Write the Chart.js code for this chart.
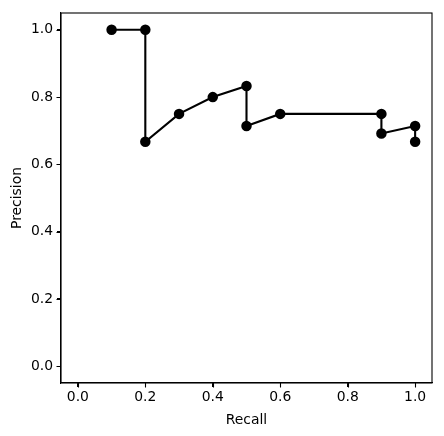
<!DOCTYPE html>
<html>
<head>
<meta charset="utf-8">
<script src="https://cdn.jsdelivr.net/npm/chart.js@4"></script>
<style>
  html, body { margin: 0; padding: 0; background: #fff; }
  #wrap { width: 444px; height: 436px; }
</style>
</head>
<body>
<div id="wrap"><canvas id="myChart" width="444" height="436"></canvas></div>
<script>
const recall = [0.1, 0.2, 0.2, 0.3, 0.4, 0.5, 0.5, 0.6, 0.9, 0.9, 1.0, 1.0];
const precision = [1.0, 1.0, 0.667, 0.75, 0.8, 0.833, 0.714, 0.75, 0.75, 0.692, 0.714, 0.667];
const xTicks = [0, 0.2, 0.4, 0.6, 0.8, 1.0];
const yTicks = [0, 0.2, 0.4, 0.6, 0.8, 1.0];

const ctx = document.getElementById("myChart");
const font = { family: "DejaVu Sans", size: 13.9 };

// box around the plot area plus outward tick marks (matplotlib style)
const frame = {
  id: "frame",
  afterDraw(chart) {
    const a = chart.chartArea;
    const c = chart.ctx;
    c.save();
    c.strokeStyle = "#000";
    c.lineWidth = 1.1;
    c.strokeRect(a.left, a.top, a.right - a.left, a.bottom - a.top);
    c.beginPath();
    xTicks.forEach((v) => {
      const px = Math.round(chart.scales.x.getPixelForValue(v)) + 0.5;
      c.moveTo(px, a.bottom);
      c.lineTo(px, a.bottom + 4.5);
    });
    yTicks.forEach((v) => {
      const py = Math.round(chart.scales.y.getPixelForValue(v)) + 0.5;
      c.moveTo(a.left, py);
      c.lineTo(a.left - 4.5, py);
    });
    c.stroke();
    c.restore();
  },
};

new Chart(ctx, {
  type: "scatter",
  data: {
    datasets: [
      {
        data: recall.map((r, i) => ({ x: r, y: precision[i] })),
        showLine: true,
        borderColor: "#000",
        backgroundColor: "#000",
        borderWidth: 2.1,
        pointRadius: 4.2,
        pointHoverRadius: 4.2,
        tension: 0,
      },
    ],
  },
  options: {
    responsive: false,
    animation: false,
    layout: { padding: { top: 13, right: 12, left: 0, bottom: 0 } },
    plugins: { legend: { display: false }, tooltip: { enabled: false } },
    scales: {
      x: {
        type: "linear",
        min: -0.05,
        max: 1.05,
        afterBuildTicks: (s) => { s.ticks = xTicks.map((v) => ({ value: v })); },
        afterFit: (s) => { s.height = 53; },
        ticks: {
          color: "#000",
          font: font,
          padding: 2,
          maxRotation: 0,
          callback: (v) => v.toFixed(1),
        },
        grid: { drawOnChartArea: false, drawTicks: true, tickLength: 4, color: "#000" },
        border: { color: "#000", width: 1.1 },
        title: { display: true, text: "Recall", color: "#000", font: font, padding: { top: 2, bottom: 7 } },
      },
      y: {
        type: "linear",
        min: -0.05,
        max: 1.05,
        afterBuildTicks: (s) => { s.ticks = yTicks.map((v) => ({ value: v })); },
        afterFit: (s) => { s.width = 61; },
        ticks: {
          color: "#000",
          font: font,
          padding: 4,
          callback: (v) => v.toFixed(1),
        },
        grid: { drawOnChartArea: false, drawTicks: true, tickLength: 4, color: "#000" },
        border: { color: "#000", width: 1.1 },
        title: { display: true, text: "Precision", color: "#000", font: font, padding: { top: 9, bottom: 0 } },
      },
    },
  },
  plugins: [frame],
});
</script>
</body>
</html>
